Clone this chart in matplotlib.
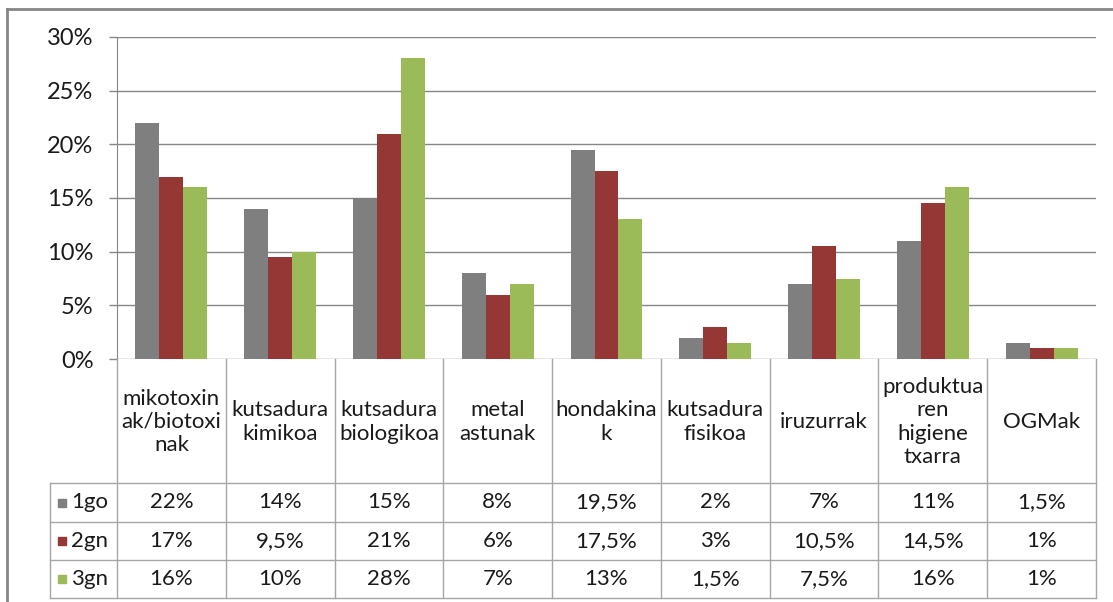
import matplotlib
matplotlib.use("Agg")
import matplotlib.pyplot as plt
from matplotlib.lines import Line2D
from matplotlib.patches import Rectangle

categories = ["mikotoxin\nak/biotoxi\nnak", "kutsadura\nkimikoa", "kutsadura\nbiologikoa",
              "metal\nastunak", "hondakina\nk", "kutsadura\nfisikoa", "iruzurrak",
              "produktua\nren\nhigiene\ntxarra", "OGMak"]
series_names = ["1go", "2gn", "3gn"]
s1 = [22, 14, 15, 8, 19.5, 2, 7, 11, 1.5]
s2 = [17, 9.5, 21, 6, 17.5, 3, 10.5, 14.5, 1]
s3 = [16, 10, 28, 7, 13, 1.5, 7.5, 16, 1]
series = [s1, s2, s3]
colors = ["#7f7f7f", "#953735", "#9bbb59"]
yticks = [0, 5, 10, 15, 20, 25, 30]

W, H = 1113, 602
FONT = "Lato"
plt.rcParams['font.family'] = [FONT, 'DejaVu Sans']
FS = 16
TXT = "#1a1a1a"

fig = plt.figure(figsize=(W / 100, H / 100), dpi=100)

def fx(x):
    return x / W

def fy(y):
    return 1 - y / H

# plot area
L, R, T, B = 117, 1096, 37, 359
ax = fig.add_axes([fx(L), fy(B), fx(R) - fx(L), fy(T) - fy(B)])
n = len(categories)
bw = 0.22
for j, (vals, c) in enumerate(zip(series, colors)):
    xs = [i + (j - 1) * bw for i in range(n)]
    ax.bar(xs, [v / 100 for v in vals], width=bw, color=c, zorder=3, linewidth=0)
ax.set_xlim(-0.5, n - 0.5)
ax.set_ylim(0, 0.30)
ax.set_yticks([t / 100 for t in yticks])
ax.set_yticklabels([f"{t}%" for t in yticks], fontsize=FS + 1, color=TXT)
ax.tick_params(axis='y', length=6, color="#868686", pad=11, width=1)
ax.set_xticks([])
for s in ["top", "right", "bottom"]:
    ax.spines[s].set_visible(False)
ax.spines["left"].set_color("#868686")
ax.grid(axis='y', color="#868686", linewidth=1, zorder=0)
ax.set_axisbelow(True)

# table
line_c = "#a6a6a6"
cols = [L + (R - L) * i / n for i in range(n + 1)]
rows = [B, 483, 522, 560, 598]
leftcol = 50

def hline(x0, x1, y, c=line_c, lw=1.0):
    fig.add_artist(Line2D([fx(x0), fx(x1)], [fy(y), fy(y)], color=c, lw=lw))

def vline(x, y0, y1, c=line_c, lw=1.0):
    fig.add_artist(Line2D([fx(x), fx(x)], [fy(y0), fy(y1)], color=c, lw=lw))

for y in rows[1:]:
    hline(leftcol, R, y)
for x in cols:
    vline(x, B, rows[-1])
vline(leftcol, rows[1], rows[-1])

def fmt(v):
    return f"{v:g}".replace(".", ",") + "%"

for i, cat in enumerate(categories):
    cx = (cols[i] + cols[i + 1]) / 2
    fig.text(fx(cx), fy((rows[0] + rows[1]) / 2 + 1), cat, ha="center", va="center",
             fontsize=FS, linespacing=1.2, color=TXT)
    for j, vals in enumerate(series):
        cy = (rows[j + 1] + rows[j + 2]) / 2
        fig.text(fx(cx), fy(cy), fmt(vals[i]), ha="center", va="center",
                 fontsize=FS, color=TXT)

for j, name in enumerate(series_names):
    cy = (rows[j + 1] + rows[j + 2]) / 2
    fig.add_artist(Rectangle((fx(58), fy(cy + 4)), fx(8), 8 / H, color=colors[j]))
    fig.text(fx(71), fy(cy), name, ha="left", va="center", fontsize=FS, color=TXT)

# outer frame
hline(7, W, 9, c="#868686", lw=2)
vline(7, 9, H, c="#868686", lw=2)

fig.savefig("out.png", dpi=100)
